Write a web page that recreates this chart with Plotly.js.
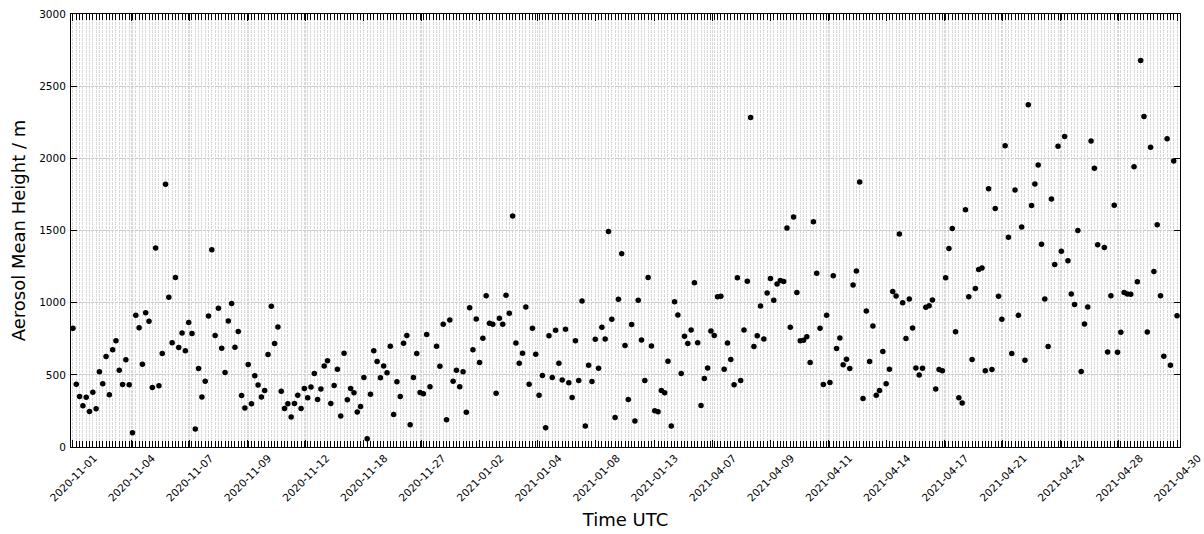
<!DOCTYPE html>
<html>
<head>
<meta charset="utf-8">
<script src="https://cdn.plot.ly/plotly-3.0.1.min.js"></script>
<style>
  html, body { margin: 0; padding: 0; background: #fff; }
  #chart { width: 1204px; height: 534px; }
</style>
</head>
<body>
<div id="chart"></div>
<script>
// Aerosol mean height (m), one value per observation, in time order (null = missing)
const heights = [
  822,435,350,286,345,246,380,265,521,438,
  627,362,673,737,532,433,604,431,99,912,
  827,574,931,871,412,1378,424,647,1820,1037,
  723,1175,689,790,666,862,786,124,544,346,
  456,908,1366,772,961,684,516,873,995,691,
  800,357,270,571,300,493,429,346,392,641,
  975,717,832,387,267,300,207,302,359,267,
  406,341,415,509,329,401,562,597,302,426,
  539,214,650,327,406,376,242,281,482,58,
  366,666,592,479,562,514,698,226,452,350,
  719,772,154,482,647,378,369,779,417,null,
  698,560,850,189,880,456,532,417,521,240,
  965,673,887,585,753,1048,857,850,373,892,
  850,1051,926,1601,721,581,650,970,435,822,
  643,359,495,134,770,482,809,581,465,816,
  445,343,737,461,1011,145,567,454,746,546,
  829,749,1493,885,205,1023,1339,703,329,848,
  180,
  1016,742,461,1175,700,251,244,392,376,594,
  145,1007,915,509,767,717,811,1138,723,288,
  475,548,804,772,1041,1044,539,721,606,431,
  1173,461,811,1149,2283,696,770,977,749,1067,
  1168,1016,1129,1154,1147,1518,829,1594,1071,737,
  740,763,585,1560,1203,822,433,912,447,1187,
  682,756,569,608,544,1122,1219,1836,336,942,
  592,839,359,392,661,438,539,1078,1046,1475,
  1000,751,1025,825,548,498,546,968,979,1018,
  401,537,528,1173,1375,1514,799,341,304,1643,
  1041,606,1099,1230,1240,528,1790,537,1652,1044,
  885,2087,1454,647,1781,912,1525,601,2371,1673,
  1822,1954,1405,1025,696,1719,1265,2083,1357,2152,
  1290,1060,988,1500,523,852,970,2120,1931,1401,
  null,1382,659,1048,1675,657,795,1071,1060,1058,
  1942,1145,2677,2290,797,2076,1216,1539,1048,629,
  2136,567,1981,910
];

// Date labels shown on the x axis
const tickLabels = [
  '2020-11-01','2020-11-04','2020-11-07','2020-11-09','2020-11-12',
  '2020-11-18','2020-11-27','2021-01-02','2021-01-04','2021-01-08',
  '2021-01-13','2021-04-07','2021-04-09','2021-04-11','2021-04-14',
  '2021-04-17','2021-04-21','2021-04-24','2021-04-28','2021-04-30'
];

const xIndex = heights.map((_, i) => i);
const last = heights.length - 1;
const tickPositions = tickLabels.map((_, i) => i * last / (tickLabels.length - 1));

const trace = {
  x: xIndex,
  y: heights,
  type: 'scatter',
  mode: 'markers',
  marker: { color: '#000', size: 5.5 },
  hoverinfo: 'y'
};

const fontFam = 'DejaVu Sans, sans-serif';

const layout = {
  width: 1204,
  height: 534,
  margin: { l: 71, r: 24, t: 14, b: 87 },
  paper_bgcolor: '#fff',
  plot_bgcolor: '#fff',
  showlegend: false,
  font: { family: fontFam, color: '#000', size: 10.5 },
  xaxis: {
    range: [-0.6, last + 0.9],
    tickmode: 'array',
    tickvals: tickPositions,
    ticktext: tickLabels,
    tickangle: -45,
    ticklabelshift: 21,
    ticklabelstandoff: 0,
    ticks: 'inside',
    ticklen: 7,
    tickwidth: 1,
    tickcolor: '#000',
    showline: true,
    linecolor: '#000',
    linewidth: 1,
    mirror: 'ticks',
    zeroline: false,
    showgrid: true,
    gridcolor: '#d8d8d8',
    griddash: '3px,1px',
    gridwidth: 1,
    minor: {
      tick0: 0,
      dtick: 1,
      ticks: 'inside',
      ticklen: 6,
      tickwidth: 1,
      tickcolor: '#000',
      showgrid: true,
      gridcolor: '#d8d8d8',
      griddash: '3px,1px',
      gridwidth: 1
    },
    tickfont: { family: fontFam, size: 10.5, color: '#000' },
    title: { text: 'Time UTC', font: { family: fontFam, size: 18, color: '#000' }, standoff: 10 }
  },
  yaxis: {
    range: [0, 3000],
    tickmode: 'linear',
    tick0: 0,
    dtick: 500,
    ticks: 'inside',
    ticklen: 6,
    tickwidth: 1,
    tickcolor: '#000',
    showline: true,
    linecolor: '#000',
    linewidth: 1,
    mirror: 'ticks',
    zeroline: false,
    showgrid: true,
    gridcolor: '#c8c8c8',
    griddash: '3px,1px',
    gridwidth: 1,
    tickfont: { family: fontFam, size: 10.5, color: '#000' },
    ticklabelstandoff: 2,
    title: { text: 'Aerosol Mean Height / m', font: { family: fontFam, size: 18, color: '#000' }, standoff: 8 }
  }
};

Plotly.newPlot('chart', [trace], layout, { displayModeBar: false, staticPlot: true });
</script>
</body>
</html>
